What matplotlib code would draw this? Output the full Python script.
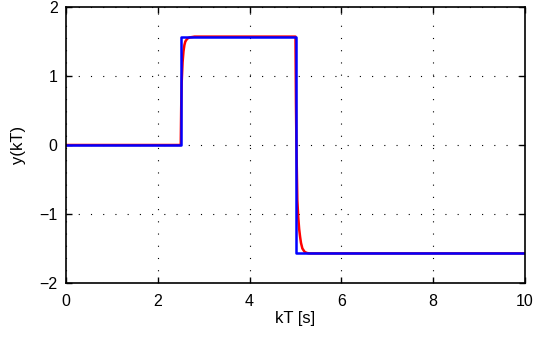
import matplotlib
matplotlib.use('Agg')
import matplotlib.pyplot as plt

# reference (blue) step signal
t_ref = [0, 2.5, 2.5, 5.0, 5.0, 10.0]
y_ref = [0, 0, 1.5708, 1.5708, -1.5708, -1.5708]

# response (red)
t_out = [0, 2.5, 2.51, 2.52, 2.54, 2.56, 2.58, 2.6, 2.63, 2.66, 2.7, 2.75, 2.8,
         5.0, 5.01, 5.02, 5.04, 5.06, 5.08, 5.1, 5.12, 5.15, 5.2, 5.25, 5.3, 10.0]
y_out = [0, 0, 0.55, 0.9, 1.2, 1.36, 1.45, 1.5, 1.53, 1.55, 1.56, 1.565, 1.5708,
         1.5708, 0.6, 0.0, -0.8, -1.05, -1.22, -1.33, -1.42, -1.5, -1.55, -1.565, -1.5708, -1.5708]

plt.rcParams['font.family'] = ['Liberation Sans', 'DejaVu Sans']

fig = plt.figure(figsize=(5.36, 3.45), dpi=100)
ax = fig.add_axes([66 / 536, 1 - 283 / 345, 459 / 536, 276 / 345])

ax.plot(t_out, y_out, color='#ff0000', lw=1.8)
ax.plot(t_ref, y_ref, color='#0000ff', lw=1.8)

ax.set_xlim(0, 10)
ax.set_ylim(-2, 2)
ax.set_xticks([0, 2, 4, 6, 8, 10])
ax.set_yticks([-2, -1, 0, 1, 2])
ax.grid(True, color='black', linestyle=(0, (1, 10)), linewidth=0.8)
ax.tick_params(direction='in', top=True, right=True, labelsize=11.5, length=4, width=1.0)
ax.tick_params(axis='x', pad=8)
ax.tick_params(axis='y', pad=6)
for s in ax.spines.values():
    s.set_linewidth(1.2)

ax.set_xlabel('kT [s]', fontsize=12, labelpad=1)
ax.set_ylabel('y(kT)', fontsize=12, labelpad=10)

fig.savefig('out.png', dpi=100)
